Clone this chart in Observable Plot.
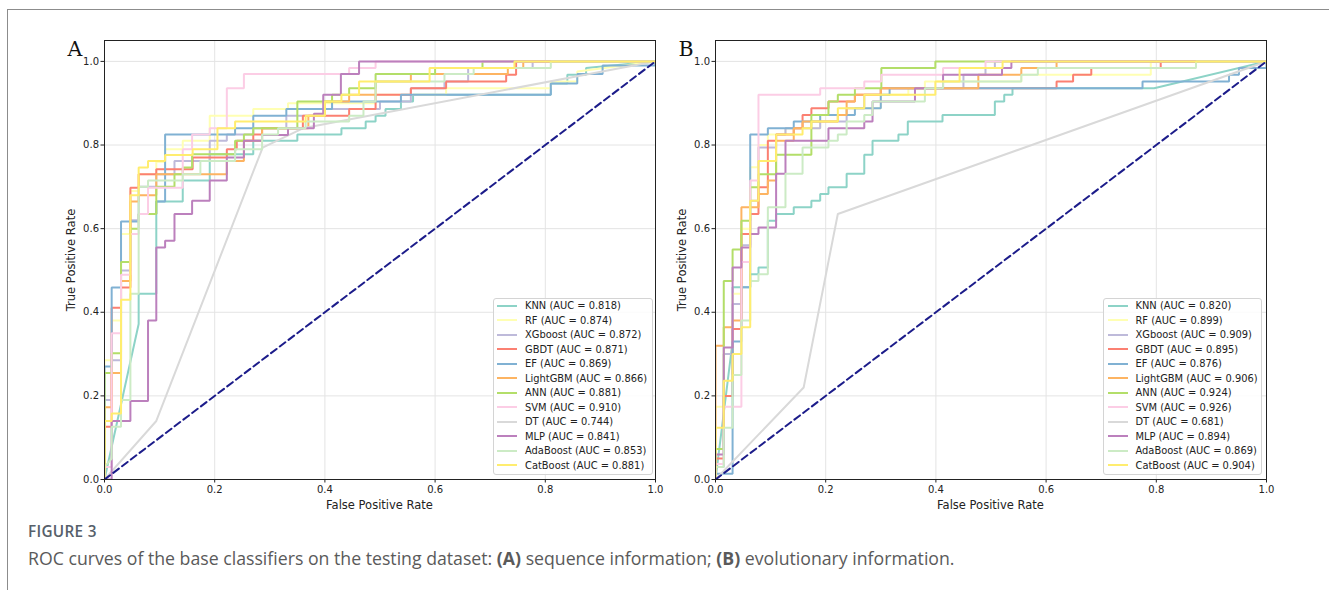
<!DOCTYPE html>
<html><head><meta charset="utf-8">
<script src="https://cdn.jsdelivr.net/npm/d3@7"></script>
<script src="https://cdn.jsdelivr.net/npm/@observablehq/plot@0.6"></script>
<style>
body{margin:0;background:#fff;}
#fig{position:relative;width:1329px;height:590px;overflow:hidden;background:#fff;font-family:"DejaVu Sans",sans-serif;}
.abs{position:absolute;}
.ctr{position:absolute;transform:translate(-50%,-50%);white-space:nowrap;}
.legend{position:absolute;box-sizing:border-box;border:1px solid #d4d4d4;border-radius:3px;background:rgba(255,255,255,0.85);padding:0;}
.row{display:flex;align-items:center;height:14.5px;}
.sw{width:20px;height:2px;margin-left:3.5px;margin-right:8px;flex:none;}
.lt{font-size:9.9px;color:#222;white-space:nowrap;font-family:"DejaVu Sans";}
</style></head><body><div id="fig"></div>
<script>
// ---------- data ----------
const models = ["KNN","RF","XGboost","GBDT","EF","LightGBM","ANN","SVM","DT","MLP","AdaBoost","CatBoost"];
const aucA = ["0.818","0.874","0.872","0.871","0.869","0.866","0.881","0.910","0.744","0.841","0.853","0.881"];
const aucB = ["0.820","0.899","0.909","0.895","0.876","0.906","0.924","0.926","0.681","0.894","0.869","0.904"];
const palette = ["#8dd3c7","#ffffb3","#bebada","#fb8072","#80b1d3","#fdb462","#b3de69","#fccde5","#d9d9d9","#bc80bd","#ccebc5","#ffed6f"];
const tickValues = [0, 0.2, 0.4, 0.6, 0.8, 1.0];
const chance = [[0,0],[1,1]];

// Panel A (sequence information): [FPR, TPR] corner points
const rocA_KNN = [[0,0],[0.062,0.372],[0.062,0.444],[0.094,0.444],[0.094,0.665],[0.142,0.665],[0.142,0.715],[0.191,0.715],[0.191,0.778],[0.27,0.778],[0.27,0.81],[0.35,0.81],[0.35,0.825],[0.43,0.825],[0.43,0.84],[0.474,0.84],[0.474,0.856],[0.492,0.856],[0.492,0.87],[0.51,0.87],[0.51,0.886],[0.538,0.886],[0.538,0.904],[0.56,0.904],[0.56,0.92],[0.81,0.92],[0.81,0.947],[0.84,0.947],[0.84,0.968],[0.874,0.968],[0.874,0.984],[1,1]];
const rocA_RF = [[0,0],[0,0.285],[0.013,0.285],[0.013,0.38],[0.03,0.38],[0.03,0.587],[0.047,0.587],[0.047,0.69],[0.062,0.69],[0.062,0.73],[0.094,0.73],[0.094,0.76],[0.11,0.76],[0.11,0.79],[0.142,0.79],[0.142,0.81],[0.191,0.81],[0.191,0.87],[0.27,0.87],[0.27,0.886],[0.333,0.886],[0.333,0.9],[0.492,0.9],[0.492,0.92],[0.62,0.92],[0.62,0.936],[0.81,0.936],[0.81,0.952],[0.858,0.952],[0.858,0.976],[1,1]];
const rocA_XGB = [[0,0],[0,0.19],[0.013,0.19],[0.013,0.285],[0.03,0.285],[0.03,0.5],[0.047,0.5],[0.047,0.62],[0.062,0.62],[0.062,0.7],[0.094,0.7],[0.094,0.73],[0.127,0.73],[0.127,0.762],[0.191,0.762],[0.191,0.81],[0.222,0.81],[0.222,0.825],[0.27,0.825],[0.27,0.84],[0.33,0.84],[0.33,0.87],[0.4,0.87],[0.4,0.886],[0.5,0.886],[0.5,0.904],[0.556,0.904],[0.556,0.936],[0.617,0.936],[0.617,0.952],[0.66,0.952],[0.66,0.984],[0.777,0.984],[0.777,1],[1,1]];
const rocA_GBDT = [[0,0],[0,0.126],[0.013,0.126],[0.013,0.411],[0.03,0.411],[0.03,0.459],[0.047,0.459],[0.047,0.698],[0.062,0.698],[0.062,0.73],[0.094,0.73],[0.094,0.742],[0.16,0.742],[0.16,0.77],[0.222,0.77],[0.222,0.79],[0.24,0.79],[0.24,0.81],[0.27,0.81],[0.27,0.825],[0.286,0.825],[0.286,0.84],[0.36,0.84],[0.36,0.87],[0.444,0.87],[0.444,0.886],[0.492,0.886],[0.492,0.92],[0.556,0.92],[0.556,0.936],[0.62,0.936],[0.62,0.952],[0.729,0.952],[0.729,0.968],[0.747,0.968],[0.747,1],[1,1]];
const rocA_EF = [[0,0],[0,0.27],[0.013,0.27],[0.013,0.459],[0.03,0.459],[0.03,0.617],[0.062,0.617],[0.062,0.635],[0.094,0.635],[0.094,0.665],[0.11,0.665],[0.11,0.825],[0.237,0.825],[0.237,0.84],[0.27,0.84],[0.27,0.87],[0.33,0.87],[0.33,0.886],[0.413,0.886],[0.413,0.904],[0.538,0.904],[0.538,0.92],[0.81,0.92],[0.81,0.947],[0.858,0.947],[0.858,0.97],[0.904,0.97],[0.904,0.99],[1,0.99],[1,1]];
const rocA_LGBM = [[0,0],[0,0.173],[0.013,0.173],[0.013,0.255],[0.03,0.255],[0.03,0.475],[0.047,0.475],[0.047,0.665],[0.062,0.665],[0.062,0.68],[0.094,0.68],[0.094,0.73],[0.222,0.73],[0.222,0.762],[0.253,0.762],[0.253,0.81],[0.286,0.81],[0.286,0.84],[0.37,0.84],[0.37,0.87],[0.4,0.87],[0.4,0.904],[0.444,0.904],[0.444,0.92],[0.492,0.92],[0.492,0.952],[0.556,0.952],[0.556,0.97],[0.732,0.97],[0.732,0.984],[0.76,0.984],[0.76,1],[1,1]];
const rocA_ANN = [[0,0],[0,0.255],[0.013,0.255],[0.013,0.302],[0.03,0.302],[0.03,0.52],[0.047,0.52],[0.047,0.6],[0.062,0.6],[0.062,0.635],[0.094,0.635],[0.094,0.7],[0.127,0.7],[0.127,0.73],[0.142,0.73],[0.142,0.746],[0.159,0.746],[0.159,0.778],[0.237,0.778],[0.237,0.81],[0.253,0.81],[0.253,0.825],[0.27,0.825],[0.27,0.84],[0.35,0.84],[0.35,0.904],[0.413,0.904],[0.413,0.92],[0.444,0.92],[0.444,0.936],[0.492,0.936],[0.492,0.97],[0.6,0.97],[0.6,0.984],[0.686,0.984],[0.686,1],[1,1]];
const rocA_SVM = [[0,0],[0,0.03],[0.013,0.03],[0.013,0.35],[0.03,0.35],[0.03,0.49],[0.047,0.49],[0.047,0.587],[0.062,0.587],[0.062,0.635],[0.079,0.635],[0.079,0.698],[0.142,0.698],[0.142,0.79],[0.159,0.79],[0.159,0.825],[0.191,0.825],[0.191,0.84],[0.222,0.84],[0.222,0.936],[0.253,0.936],[0.253,0.97],[0.444,0.97],[0.444,0.984],[0.492,0.984],[0.492,1],[1,1]];
const rocA_DT = [[0,0],[0.094,0.14],[0.287,0.794],[0.36,0.84],[1,1]];
const rocA_MLP = [[0,0],[0.013,0],[0.013,0.14],[0.047,0.14],[0.047,0.188],[0.079,0.188],[0.079,0.38],[0.094,0.38],[0.094,0.555],[0.11,0.555],[0.11,0.571],[0.127,0.571],[0.127,0.635],[0.159,0.635],[0.159,0.667],[0.191,0.667],[0.191,0.715],[0.222,0.715],[0.222,0.77],[0.253,0.77],[0.253,0.81],[0.286,0.81],[0.286,0.824],[0.333,0.824],[0.333,0.84],[0.38,0.84],[0.38,0.875],[0.397,0.875],[0.397,0.92],[0.429,0.92],[0.429,0.97],[0.462,0.97],[0.462,1],[1,1]];
const rocA_Ada = [[0,0],[0,0.03],[0.013,0.05],[0.013,0.126],[0.03,0.126],[0.03,0.19],[0.047,0.19],[0.047,0.444],[0.062,0.444],[0.062,0.7],[0.079,0.7],[0.079,0.715],[0.142,0.715],[0.142,0.73],[0.174,0.73],[0.174,0.762],[0.237,0.762],[0.237,0.79],[0.286,0.79],[0.286,0.825],[0.315,0.825],[0.315,0.84],[0.365,0.84],[0.365,0.856],[0.444,0.856],[0.444,0.87],[0.47,0.87],[0.47,0.904],[0.492,0.904],[0.492,0.952],[0.617,0.952],[0.617,0.97],[0.67,0.97],[0.67,0.984],[0.81,0.984],[0.81,1],[1,1]];
const rocA_Cat = [[0,0],[0,0.14],[0.013,0.14],[0.013,0.158],[0.03,0.158],[0.03,0.43],[0.047,0.43],[0.047,0.68],[0.062,0.68],[0.062,0.746],[0.079,0.746],[0.079,0.762],[0.11,0.762],[0.11,0.776],[0.16,0.776],[0.16,0.79],[0.205,0.79],[0.205,0.84],[0.237,0.84],[0.237,0.856],[0.365,0.856],[0.365,0.87],[0.4,0.87],[0.4,0.904],[0.43,0.904],[0.43,0.92],[0.462,0.92],[0.462,0.952],[0.59,0.952],[0.59,0.984],[0.744,0.984],[0.744,1],[1,1]];

// Panel B (evolutionary information)
const rocB_KNN = [[0,0],[0.031,0.33],[0.031,0.46],[0.063,0.46],[0.063,0.491],[0.078,0.491],[0.078,0.507],[0.095,0.507],[0.095,0.619],[0.11,0.619],[0.11,0.635],[0.142,0.635],[0.142,0.651],[0.174,0.651],[0.174,0.667],[0.19,0.667],[0.19,0.683],[0.205,0.683],[0.205,0.699],[0.238,0.699],[0.238,0.731],[0.27,0.731],[0.27,0.777],[0.285,0.777],[0.285,0.81],[0.332,0.81],[0.332,0.825],[0.349,0.825],[0.349,0.856],[0.412,0.856],[0.412,0.872],[0.507,0.872],[0.507,0.904],[0.524,0.904],[0.524,0.92],[0.539,0.92],[0.539,0.936],[0.796,0.936],[1,1]];
const rocB_RF = [[0,0],[0,0.174],[0.015,0.174],[0.015,0.3],[0.031,0.3],[0.031,0.444],[0.047,0.444],[0.047,0.6],[0.063,0.6],[0.063,0.747],[0.078,0.747],[0.078,0.8],[0.095,0.8],[0.095,0.825],[0.127,0.825],[0.127,0.84],[0.19,0.84],[0.19,0.872],[0.238,0.872],[0.238,0.888],[0.3,0.888],[0.3,0.92],[0.35,0.92],[0.35,0.936],[0.38,0.936],[0.38,0.952],[0.555,0.952],[0.555,0.968],[0.79,0.968],[0.79,1],[1,1]];
const rocB_XGB = [[0,0],[0,0.03],[0.015,0.03],[0.015,0.3],[0.031,0.3],[0.031,0.42],[0.047,0.42],[0.047,0.56],[0.063,0.56],[0.063,0.667],[0.078,0.667],[0.078,0.794],[0.11,0.794],[0.11,0.825],[0.127,0.825],[0.127,0.84],[0.19,0.84],[0.19,0.856],[0.238,0.856],[0.238,0.888],[0.27,0.888],[0.27,0.92],[0.3,0.92],[0.3,0.936],[0.45,0.936],[0.45,0.968],[0.49,0.968],[0.49,0.984],[0.507,0.984],[0.507,1],[1,1]];
const rocB_GBDT = [[0,0],[0,0.05],[0.015,0.05],[0.015,0.2],[0.031,0.2],[0.031,0.36],[0.047,0.36],[0.047,0.587],[0.063,0.587],[0.063,0.635],[0.078,0.635],[0.078,0.699],[0.095,0.699],[0.095,0.81],[0.11,0.81],[0.11,0.825],[0.142,0.825],[0.142,0.84],[0.158,0.84],[0.158,0.872],[0.174,0.872],[0.174,0.888],[0.205,0.888],[0.205,0.904],[0.253,0.904],[0.253,0.92],[0.3,0.92],[0.3,0.936],[0.619,0.936],[0.619,0.952],[0.649,0.952],[0.649,0.968],[0.682,0.968],[0.682,0.984],[0.808,0.984],[0.808,1],[1,1]];
const rocB_EF = [[0,0],[0,0.014],[0.031,0.014],[0.031,0.33],[0.047,0.33],[0.047,0.46],[0.063,0.46],[0.063,0.825],[0.095,0.825],[0.095,0.84],[0.142,0.84],[0.142,0.856],[0.19,0.856],[0.19,0.872],[0.253,0.872],[0.253,0.888],[0.3,0.888],[0.3,0.92],[0.316,0.92],[0.316,0.936],[0.775,0.936],[0.775,0.952],[0.932,0.952],[0.932,0.968],[0.95,0.968],[0.95,0.984],[1,0.984],[1,1]];
const rocB_LGBM = [[0,0],[0,0.32],[0.015,0.32],[0.015,0.364],[0.031,0.364],[0.031,0.38],[0.047,0.38],[0.047,0.651],[0.078,0.651],[0.078,0.683],[0.095,0.683],[0.095,0.715],[0.11,0.715],[0.11,0.81],[0.142,0.81],[0.142,0.84],[0.158,0.84],[0.158,0.856],[0.222,0.856],[0.222,0.872],[0.238,0.872],[0.238,0.904],[0.253,0.904],[0.253,0.92],[0.3,0.92],[0.3,0.936],[0.477,0.936],[0.477,0.968],[0.555,0.968],[0.555,0.984],[0.619,0.984],[0.619,1],[1,1]];
const rocB_ANN = [[0,0],[0,0.073],[0.015,0.073],[0.015,0.475],[0.031,0.475],[0.031,0.55],[0.047,0.55],[0.047,0.619],[0.063,0.619],[0.063,0.699],[0.078,0.699],[0.078,0.73],[0.11,0.73],[0.11,0.777],[0.174,0.777],[0.174,0.872],[0.205,0.872],[0.205,0.904],[0.222,0.904],[0.222,0.92],[0.253,0.92],[0.253,0.936],[0.301,0.936],[0.301,0.984],[0.399,0.984],[0.399,1],[1,1]];
const rocB_SVM = [[0,0],[0,0.037],[0.015,0.037],[0.015,0.174],[0.047,0.174],[0.047,0.52],[0.063,0.52],[0.063,0.715],[0.078,0.715],[0.078,0.92],[0.19,0.92],[0.19,0.936],[0.27,0.936],[0.27,0.952],[0.301,0.952],[0.301,0.968],[0.413,0.968],[0.413,0.984],[0.49,0.984],[0.49,1],[1,1]];
const rocB_DT = [[0,0],[0.16,0.22],[0.222,0.635],[1,1]];
const rocB_MLP = [[0,0],[0,0.06],[0.015,0.06],[0.015,0.316],[0.031,0.316],[0.031,0.507],[0.047,0.507],[0.047,0.555],[0.063,0.555],[0.063,0.587],[0.078,0.587],[0.078,0.603],[0.11,0.603],[0.11,0.731],[0.127,0.731],[0.127,0.81],[0.205,0.81],[0.205,0.84],[0.27,0.84],[0.27,0.856],[0.285,0.856],[0.285,0.904],[0.362,0.904],[0.362,0.936],[0.413,0.936],[0.413,0.968],[0.52,0.968],[0.52,0.984],[0.537,0.984],[0.537,1],[1,1]];
const rocB_Ada = [[0,0],[0,0.03],[0.015,0.03],[0.015,0.124],[0.031,0.124],[0.031,0.25],[0.047,0.25],[0.047,0.38],[0.063,0.38],[0.063,0.475],[0.078,0.475],[0.078,0.491],[0.095,0.491],[0.095,0.651],[0.127,0.651],[0.127,0.731],[0.158,0.731],[0.158,0.794],[0.205,0.794],[0.205,0.81],[0.222,0.81],[0.222,0.825],[0.238,0.825],[0.238,0.856],[0.27,0.856],[0.27,0.872],[0.285,0.872],[0.285,0.904],[0.38,0.904],[0.38,0.936],[0.413,0.936],[0.413,0.952],[0.555,0.952],[0.555,0.968],[0.585,0.968],[0.585,0.984],[0.872,0.984],[0.872,1],[1,1]];
const rocB_Cat = [[0,0],[0,0.124],[0.015,0.124],[0.015,0.236],[0.031,0.236],[0.031,0.3],[0.047,0.3],[0.047,0.364],[0.063,0.364],[0.063,0.667],[0.078,0.667],[0.078,0.762],[0.11,0.762],[0.11,0.825],[0.158,0.825],[0.158,0.84],[0.174,0.84],[0.174,0.856],[0.222,0.856],[0.222,0.888],[0.27,0.888],[0.27,0.92],[0.399,0.92],[0.399,0.952],[0.443,0.952],[0.443,0.984],[0.521,0.984],[0.521,1],[1,1]];

const rocsA = [rocA_KNN, rocA_RF, rocA_XGB, rocA_GBDT, rocA_EF, rocA_LGBM, rocA_ANN, rocA_SVM, rocA_DT, rocA_MLP, rocA_Ada, rocA_Cat];
const rocsB = [rocB_KNN, rocB_RF, rocB_XGB, rocB_GBDT, rocB_EF, rocB_LGBM, rocB_ANN, rocB_SVM, rocB_DT, rocB_MLP, rocB_Ada, rocB_Cat];

// ---------- drawing ----------
const fig = document.getElementById("fig");
function addDiv(html, cls, style) {
  const d = document.createElement("div");
  d.className = cls; d.innerHTML = html; Object.assign(d.style, style);
  fig.appendChild(d); return d;
}

function panel(rocs, aucs, left, letter, legendLeft, legendWidth) {
  const marks = [
    Plot.gridX(tickValues, {stroke: "#e4e4e4", strokeOpacity: 1}),
    Plot.gridY(tickValues, {stroke: "#e4e4e4", strokeOpacity: 1})
  ];
  rocs.forEach((r, i) => marks.push(Plot.line(r, {x: d => d[0], y: d => d[1], stroke: palette[i], strokeWidth: 2, strokeLinejoin: "miter", strokeLinecap: "butt", clip: true})));
  marks.push(Plot.line(chance, {x: d => d[0], y: d => d[1], stroke: "#1c1c8a", strokeWidth: 2, strokeDasharray: "7,4", clip: true}));
  marks.push(Plot.frame({stroke: "#222", strokeWidth: 1}));
  marks.push(Plot.axisX(tickValues, {tickFormat: d => d.toFixed(1), tickSize: 3.5, tickPadding: 2.5, label: null, fontSize: 10}));
  marks.push(Plot.axisY(tickValues, {tickFormat: d => d.toFixed(1), tickSize: 3.5, tickPadding: 2, label: null, fontSize: 10}));
  const svg = Plot.plot({
    width: 670, height: 520,
    marginLeft: 104, marginRight: 15, marginTop: 40, marginBottom: 41,
    x: {domain: [0, 1]}, y: {domain: [0, 1.05]},
    style: {fontFamily: "DejaVu Sans", fontSize: "10px", color: "#222", background: "transparent", position: "absolute", left: left + "px", top: "0px", overflow: "visible"},
    marks
  });
  fig.appendChild(svg);
  // panel letter
  addDiv(letter, "abs", {left: (left + 67.5) + "px", top: "37px", fontFamily: "DejaVu Serif", fontSize: "20.5px", color: "#111", lineHeight: "24px"});
  // axis titles
  addDiv("False Positive Rate", "ctr", {left: (left + 379.5) + "px", top: "505px", fontSize: "11.5px", color: "#222"});
  addDiv("True Positive Rate", "ctr", {left: (left + 71) + "px", top: "259.5px", fontSize: "11.5px", color: "#222", transform: "translate(-50%,-50%) rotate(-90deg)"});
  // legend
  const lg = addDiv("", "legend", {left: legendLeft + "px", top: "297.5px", width: legendWidth + "px", height: "177px"});
  models.forEach((m, i) => {
    const row = document.createElement("div");
    row.className = "row";
    row.innerHTML = `<span class="sw" style="background:${palette[i]}"></span><span class="lt">${m} (AUC = ${aucs[i]})</span>`;
    lg.appendChild(row);
  });
}

panel(rocsA, aucA, 0, "A", 492.5, 160);
panel(rocsB, aucB, 611, "B", 1103, 159);

// page frame lines
addDiv("", "abs", {left: "7px", top: "9px", width: "1322px", height: "1px", background: "#8c8c8c"});
addDiv("", "abs", {left: "7px", top: "9px", width: "1px", height: "581px", background: "#8c8c8c"});

// caption
addDiv("FIGURE 3", "abs", {left: "28px", top: "520.5px", fontFamily: "'Open Sans'", fontWeight: "600", fontSize: "15.3px", color: "#56606a", letterSpacing: "0.3px", lineHeight: "21px"});
addDiv("ROC curves of the base classifiers on the testing dataset: <b>(A)</b> sequence information; <b>(B)</b> evolutionary information.", "abs", {left: "28px", top: "546px", fontFamily: "'Open Sans'", fontSize: "17.7px", color: "#5a5a5a", lineHeight: "24px", whiteSpace: "nowrap"});
</script></body></html>
